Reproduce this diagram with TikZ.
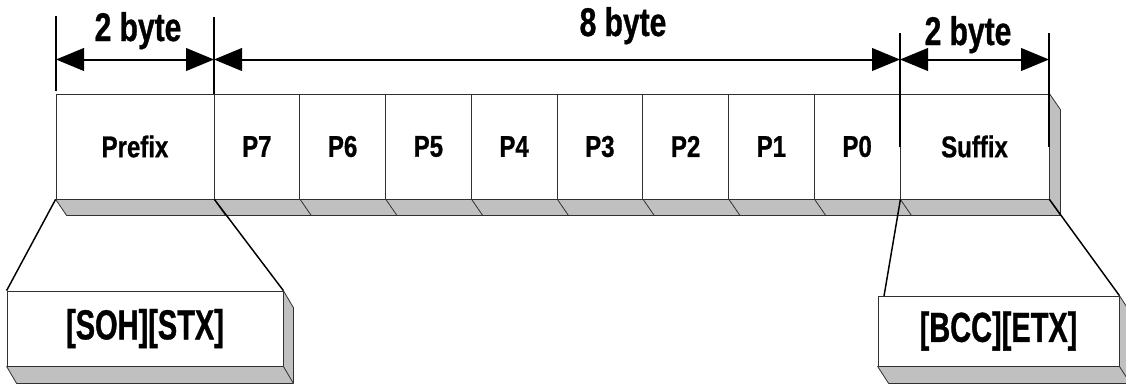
\documentclass[tikz,border=0pt]{standalone}
\usepackage{fontspec}
\newfontfamily\dimfont[FakeStretch=0.75,FakeBold=0.8]{Liberation Sans}
\newfontfamily\cellfont[FakeStretch=0.8,FakeBold=0.8]{Liberation Sans}
\newfontfamily\bigfont[FakeStretch=0.69,FakeBold=0.8]{Liberation Sans}
\usetikzlibrary{arrows.meta}
\definecolor{shade}{HTML}{C0C0C0}
\definecolor{edge}{HTML}{303030}
\begin{document}
\begin{tikzpicture}[x=0.75pt,y=-0.75pt,
  cellbox/.style={draw=edge, line width=0.6pt, fill=white, minimum height=78.75pt,
    inner sep=0pt, font={\fontsize{22.5pt}{24pt}\cellfont\bfseries}},
  bigbox/.style={draw=edge, line width=0.6pt, fill=white, inner sep=0pt,
    font={\fontsize{31.5pt}{33pt}\bigfont\bfseries}},
  shadowface/.style={fill=shade, draw=edge, line width=0.6pt, line join=round},
  shadowedge/.style={draw=edge, line width=0.6pt},
  dimtick/.style={draw=black, line width=1.1pt},
  dimarrow/.style={draw=black, line width=1.5pt, {Triangle[length=21pt,width=17pt]}-{Triangle[length=21pt,width=17pt]}},
  dimlabel/.style={anchor=base, inner sep=0pt, font={\fontsize{30pt}{32pt}\dimfont\bfseries}},
  zoomline/.style={draw=black, line width=1.1pt}]
\useasboundingbox (0,0) rectangle (1126,383);
\clip (0,0) rectangle (1126,383);

% main row
\node[cellbox, minimum width=118.5pt] (prefix) at (135,146.5) {Prefix};
\foreach \i/\t in {0/P7,1/P6,2/P5,3/P4,4/P3,5/P2,6/P1,7/P0}{
  \node[cellbox, minimum width=64.3125pt] (c\i) at ({214+85.75*(\i+0.5)},146.5) {\t};
}
\node[cellbox, minimum width=111.75pt] (suffix) at (974.5,146.5) {Suffix};

% shadow of main row
\path[shadowface] (prefix.south west) -- ++(11,16) -| ([shift={(11,16)}]suffix.north east)
  -- (suffix.north east) -- (suffix.south east) -- cycle;
\foreach \n in {prefix,c0,c1,c2,c3,c4,c5,c6,c7,suffix}{
  \draw[shadowedge] (\n.south east) -- ++(11,16);
}

% expanded boxes
\node[bigbox, minimum width=207pt, minimum height=56.25pt] (soh) at (145,328.5) {[SOH][STX]};
\node[bigbox, minimum width=180.75pt, minimum height=52.5pt] (bcc) at (998.5,331) {[BCC][ETX]};
\path[shadowface] (soh.south west) -- ++(10,17) -| ([shift={(10,17)}]soh.north east)
  -- (soh.north east) -- (soh.south east) -- cycle;
\draw[shadowedge] (soh.south east) -- ++(10,17);
\path[shadowface] (bcc.south west) -- ++(11,17) -| ([shift={(11,17)}]bcc.north east)
  -- (bcc.north east) -- (bcc.south east) -- cycle;
\draw[shadowedge] (bcc.south east) -- ++(11,17);

% zoom connectors
\coordinate (bccl) at (884,296);
\draw[zoomline] (prefix.south west) -- (soh.north west);
\draw[zoomline] (prefix.south east) -- (soh.north east);
\draw[zoomline] (c7.south east) -- (bccl);
\draw[zoomline] (suffix.south east) -- (bcc.north east);

% dimension ticks
\coordinate (t1a) at (56,16);   \coordinate (t1b) at (56,91);
\coordinate (t2a) at (214,17);  \coordinate (t2b) at (214,94);
\coordinate (t3a) at (900,33);  \coordinate (t3b) at (900,147);
\coordinate (t4a) at (1049,33); \coordinate (t4b) at (1049,147);
\draw[dimtick] (t1a) -- (t1b);
\draw[dimtick] (t2a) -- (t2b);
\draw[dimtick] (t3a) -- (t3b);
\draw[dimtick] (t4a) -- (t4b);

% dimension arrows
\coordinate (a1) at (56,59.5);
\coordinate (a2) at (214,59.5);
\coordinate (a3) at (900,59.5);
\coordinate (a4) at (1049,59.5);
\draw[dimarrow] (a1) -- (a2);
\draw[dimarrow] (a2) -- (a3);
\draw[dimarrow] (a3) -- (a4);

% dimension labels
\node[dimlabel] (l1) at (138,41) {2 byte};
\node[dimlabel] (l2) at (623,36) {8 byte};
\node[dimlabel] (l3) at (968,45) {2 byte};
\end{tikzpicture}
\end{document}
